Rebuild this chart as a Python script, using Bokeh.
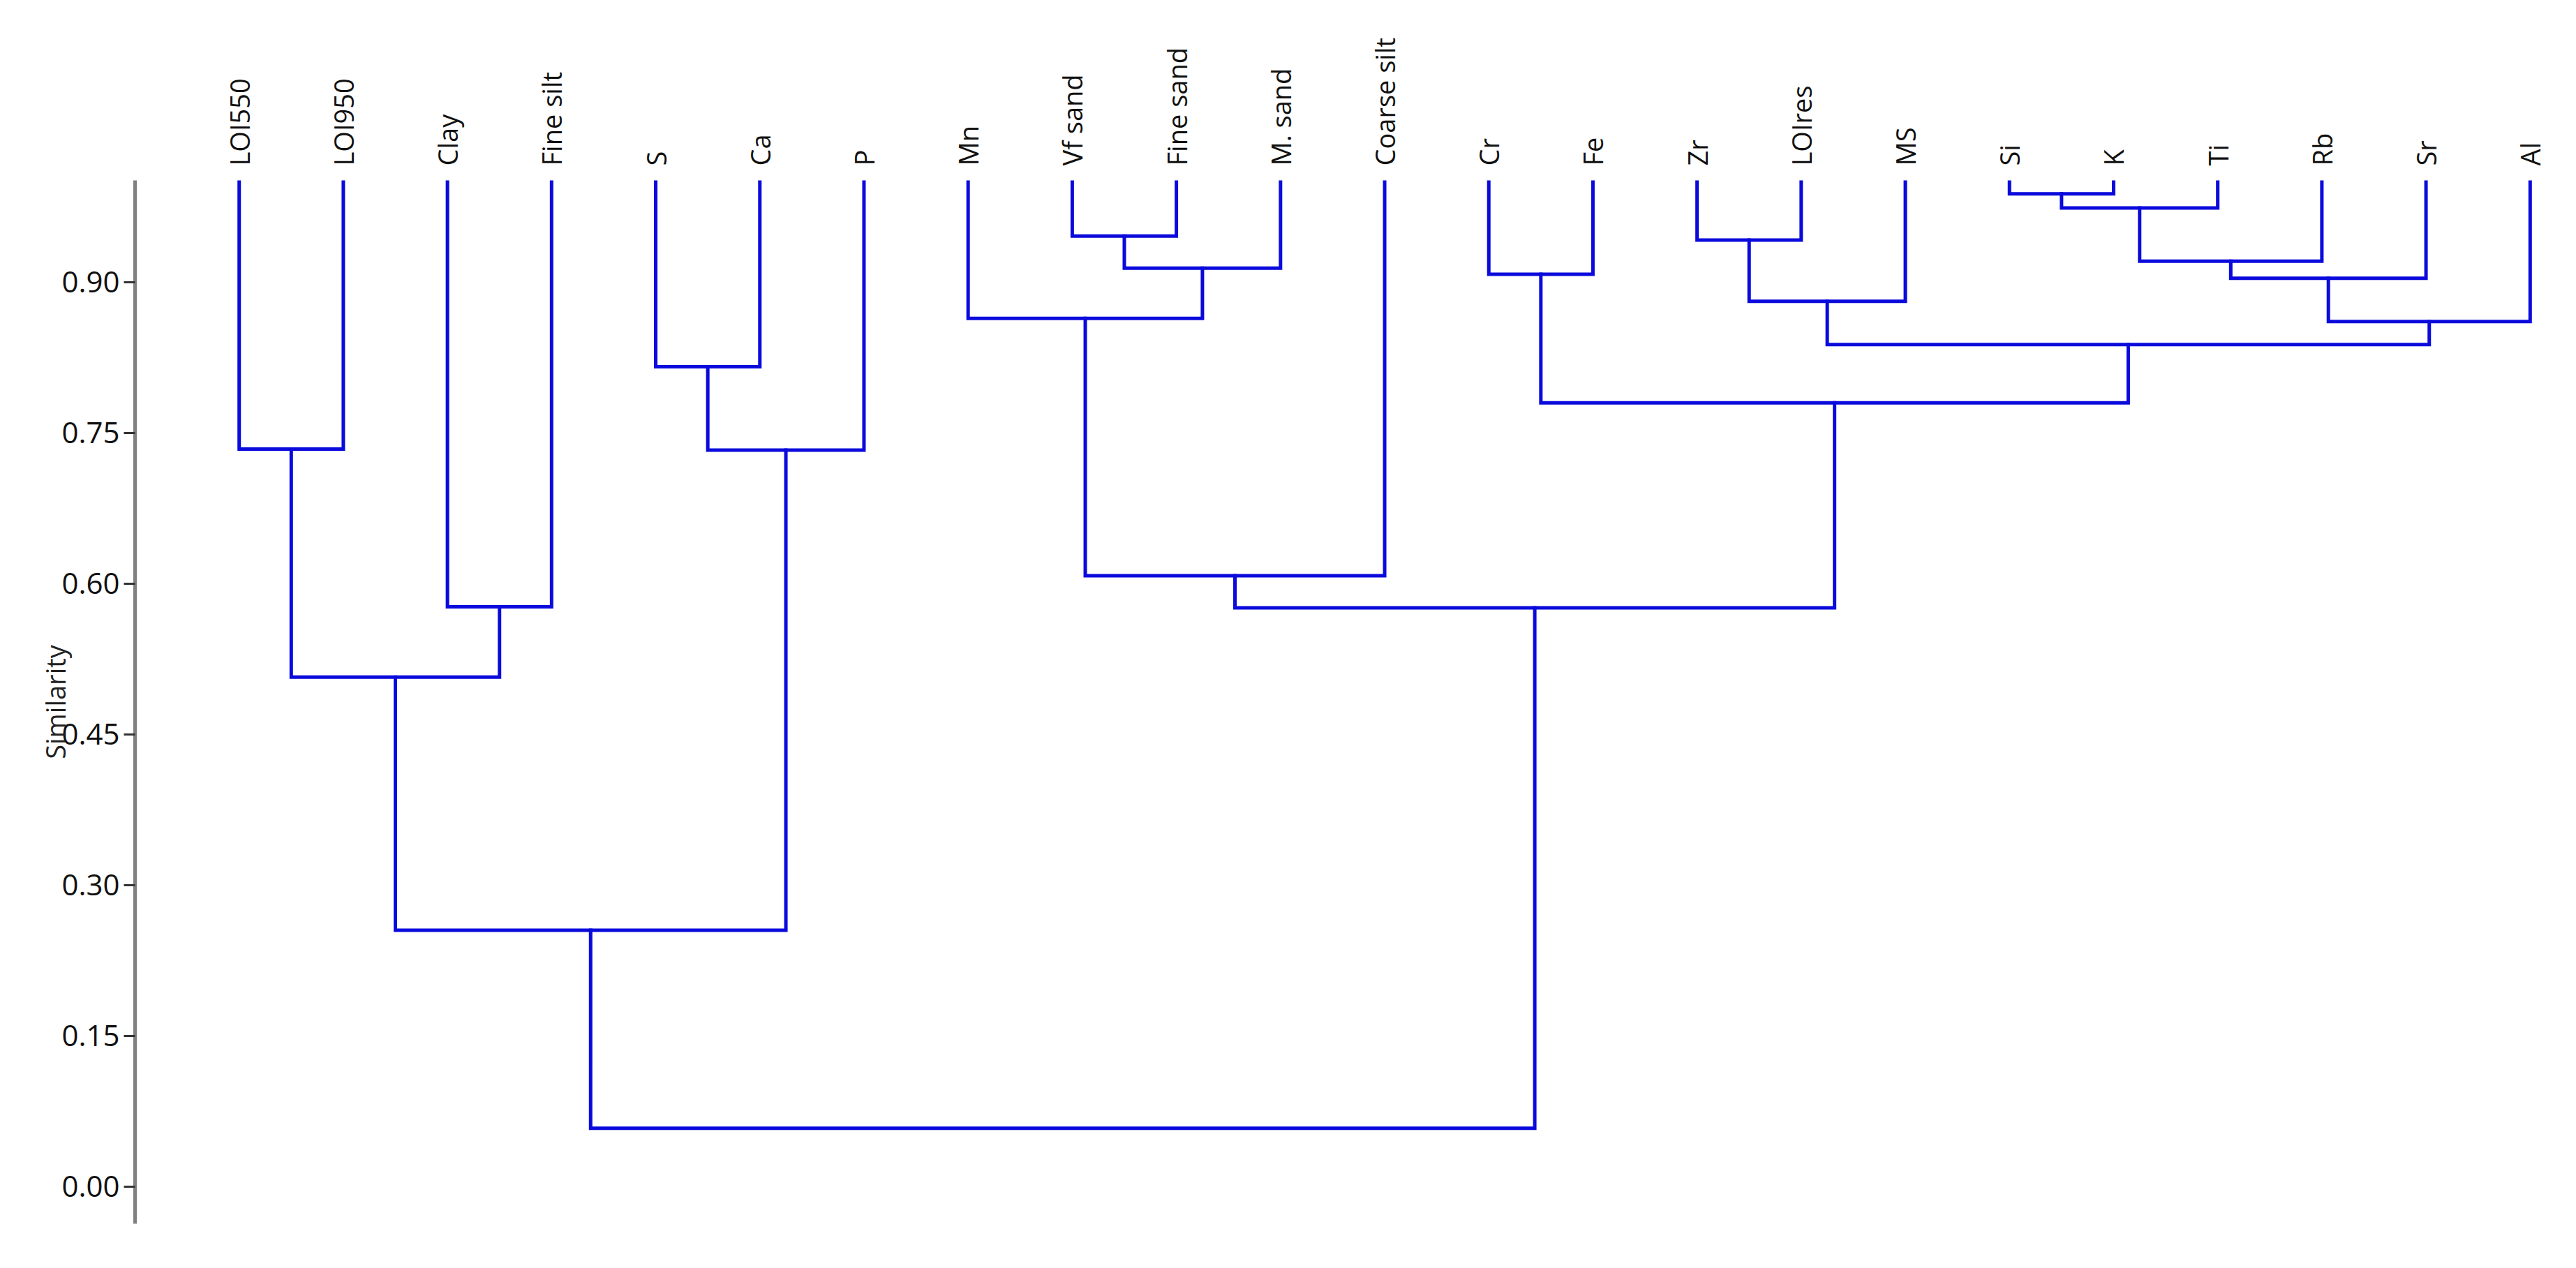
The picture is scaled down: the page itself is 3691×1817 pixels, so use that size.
import math
from bokeh.plotting import figure
from bokeh.models import Range1d, LinearAxis, FixedTicker, CustomJSTickFormatter
from bokeh.embed import file_html
from bokeh.resources import INLINE

# ---- data ----
leaves = ["LOI550", "LOI950", "Clay", "Fine silt", "S", "Ca", "P", "Mn",
          "Vf sand", "Fine sand", "M. sand", "Coarse silt", "Cr", "Fe", "Zr",
          "LOIres", "MS", "Si", "K", "Ti", "Rb", "Sr", "Al"]
leaf_similarity = 1.0
# merges: node ids 0..22 are leaves, new nodes numbered from 23 in order
merge_left = [17, 23, 8, 14, 24, 25, 12, 27, 26, 7, 30, 31, 4, 29, 0, 35, 32, 2, 39, 37, 42, 43]
merge_right = [18, 19, 9, 15, 20, 10, 13, 21, 16, 28, 22, 33, 5, 34, 1, 6, 11, 3, 36, 40, 38, 41]
merge_similarity = [0.988, 0.974, 0.946, 0.942, 0.921, 0.914, 0.908, 0.904, 0.881, 0.864,
                    0.861, 0.838, 0.816, 0.780, 0.734, 0.733, 0.608, 0.577, 0.576, 0.507,
                    0.255, 0.058]
y_ticks = [0.0, 0.15, 0.30, 0.45, 0.60, 0.75, 0.90]

# ---- build dendrogram paths ----
n = len(leaves)
node_x = {i: float(i + 1) for i in range(n)}
node_h = {i: leaf_similarity for i in range(n)}
xs, ys = [], []
for k, (a, b, h) in enumerate(zip(merge_left, merge_right, merge_similarity)):
    nid = n + k
    xa, xb = node_x[a], node_x[b]
    xs.append([xa, xa, xb, xb])
    ys.append([node_h[a], h, h, node_h[b]])
    node_x[nid] = (xa + xb) / 2.0
    node_h[nid] = h

BLUE = "#0A0ADC"
FONT = "Open Sans"

p = figure(width=3683, height=1809, output_backend="svg", toolbar_location=None,
           x_range=Range1d(0, 23.37), y_range=Range1d(-0.037, 1.0014),
           x_axis_location=None, y_axis_location=None,
           min_border_left=193, min_border_right=3, min_border_top=258, min_border_bottom=56)
p.outline_line_color = None
p.grid.visible = False
p.background_fill_color = "white"
p.border_fill_color = "white"

p.multi_line(xs=xs, ys=ys, line_color=BLUE, line_width=5, line_join="miter", line_cap="square")

# left similarity axis
yax = LinearAxis(ticker=FixedTicker(ticks=y_ticks),
                 formatter=CustomJSTickFormatter(code="return tick.toFixed(2);"))
yax.axis_line_color = "#808080"
yax.axis_line_width = 5
yax.major_tick_line_color = "#333333"
yax.major_tick_line_width = 3
yax.major_tick_out = 16
yax.major_tick_in = 0
yax.minor_tick_line_color = None
yax.major_label_standoff = 6
yax.major_label_text_font = FONT
yax.major_label_text_font_size = "42px"
yax.major_label_text_color = "#111111"
# axis title overlapping the tick labels, as in the original
yax.axis_label = "Similarity"
yax.axis_label_standoff = -20
yax.axis_label_text_font = FONT
yax.axis_label_text_font_style = "normal"
yax.axis_label_text_font_size = "38px"
yax.axis_label_text_color = "#222222"
p.add_layout(yax, "left")

# leaf labels on top
tax = LinearAxis(ticker=FixedTicker(ticks=[float(i + 1) for i in range(n)]),
                 major_label_overrides={float(i + 1): name for i, name in enumerate(leaves)})
tax.axis_line_color = None
tax.major_tick_line_color = None
tax.minor_tick_line_color = None
tax.major_label_orientation = math.pi / 2
tax.major_label_standoff = 15
tax.major_label_text_font = FONT
tax.major_label_text_font_size = "38px"
tax.major_label_text_color = "#111111"
p.add_layout(tax, "above")

open("out.html", "w").write(file_html(p, INLINE))
